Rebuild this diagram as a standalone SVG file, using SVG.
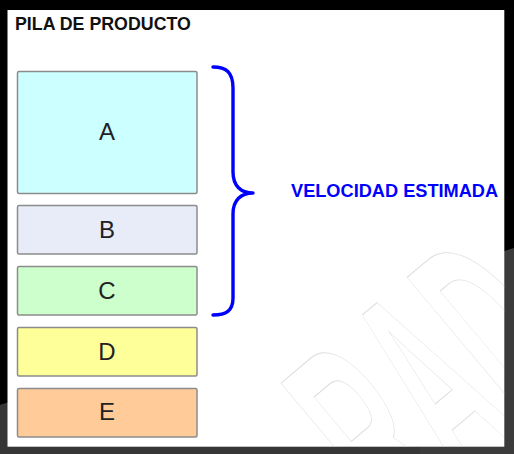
<svg xmlns="http://www.w3.org/2000/svg" width="514" height="454" viewBox="0 0 514 454">
  <defs>
    <style>
      .box { stroke: #8c8c8c; stroke-width: 1.5; }
      .lbl { font-family: "Liberation Sans", Arial, sans-serif; font-size: 24px; fill: #222; text-anchor: middle; }
      .wm { font-family: "Liberation Sans", Arial, sans-serif; font-weight: bold; font-size: 285px; fill: none; stroke: #dedede; stroke-width: 1.1; }
    </style>
    <clipPath id="page">
      <rect x="7.5" y="10" width="496.8" height="436.7"/>
    </clipPath>
  </defs>

  <!-- frame -->
  <rect x="0" y="0" width="514" height="454" fill="#000"/>
  <polygon points="0,405 514,248 514,454 0,454" fill="#3b3b3b"/>
  <polygon points="0,405 420,284 420,454 0,454" fill="#363636"/>
  <rect x="7.5" y="10" width="496.8" height="436.7" fill="#fff"/>

  <!-- watermark -->
  <g clip-path="url(#page)">
    <text class="wm" transform="translate(207.1,701.1) rotate(-40) scale(0.4,1)" x="633.3" y="0">RAD</text>
  </g>

  <text x="15" y="30" font-family="Liberation Sans, Arial, sans-serif" font-weight="bold" font-size="17.8" fill="#111">PILA DE PRODUCTO</text>

  <g id="node-A">
    <rect class="box" x="17.5" y="71.5" width="179.5" height="122" rx="1.5" fill="#ccffff"/>
    <text class="lbl" x="107" y="139.5">A</text>
  </g>
  <g id="node-B">
    <rect class="box" x="17.5" y="205.5" width="179.5" height="48.5" rx="1.5" fill="#e8ecf8"/>
    <text class="lbl" x="107" y="237.5">B</text>
  </g>
  <g id="node-C">
    <rect class="box" x="17.5" y="266.5" width="179.5" height="48.5" rx="1.5" fill="#ccffcc"/>
    <text class="lbl" x="107" y="298.5">C</text>
  </g>
  <g id="node-D">
    <rect class="box" x="17.5" y="327.5" width="179.5" height="48.5" rx="1.5" fill="#ffff99"/>
    <text class="lbl" x="107" y="359.5">D</text>
  </g>
  <g id="node-E">
    <rect class="box" x="17.5" y="388.5" width="179.5" height="48.5" rx="1.5" fill="#ffcc99"/>
    <text class="lbl" x="107" y="419.5">E</text>
  </g>

  <g id="connectors">
    <path d="M213,67 C226,67 233,72 233,88 L233,172 C233,186 241,193 253,193 C241,193 233,200 233,214 L233,298 C233,311 226,315 213,315" fill="none" stroke="#0000ff" stroke-width="3.4" stroke-linecap="round" stroke-linejoin="round"/>
  </g>

  <g id="label-velocidad">
    <text x="291" y="196.5" font-family="Liberation Sans, Arial, sans-serif" font-weight="bold" font-size="18.2" fill="#0000ff">VELOCIDAD ESTIMADA</text>
  </g>
</svg>
